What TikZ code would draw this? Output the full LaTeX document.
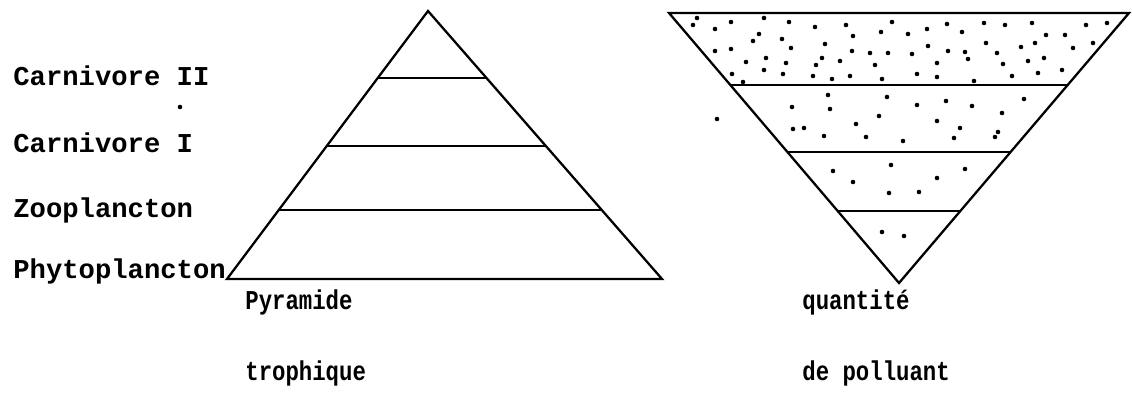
\documentclass[tikz,border=0pt]{standalone}
\usepackage{fontspec}
\setmonofont{Liberation Mono}
\newfontfamily\narrowmono[FakeStretch=0.82]{Liberation Mono}
\usetikzlibrary{positioning, calc}
\tikzset{
  outline/.style={line width=1.3pt, line join=miter},
  tier/.style={line width=1.3pt},
  tiername/.style={
    anchor=base west, inner sep=0pt,
    font=\ttfamily\bfseries\fontsize{15.5}{18}\selectfont
  },
  caption/.style={
    anchor=base west, inner sep=0pt,
    font=\narrowmono\bfseries\fontsize{15.5}{18}\selectfont
  },
  speck/.style={circle, fill=black, inner sep=0pt, minimum size=2.6pt}
}

\begin{document}
\begin{tikzpicture}[x=0.02cm, y=-0.02cm]

\useasboundingbox (0,0) rectangle (1132,415);

% Trophic pyramid
\coordinate (papex) at (428,11);
\coordinate (pleft) at (227,279);
\coordinate (pright) at (662,279);
\draw[outline] (papex) -- (pleft) -- (pright) -- cycle;
\foreach \t/\n in {0.25/a, 0.504/b, 0.743/c}{
  \coordinate (pl\n) at ($(papex)!\t!(pleft)$);
  \coordinate (pr\n) at ($(papex)!\t!(pright)$);
  \draw[tier] (pl\n) -- (pr\n);
}

% Level names
\node[tiername] (carn2) at (13,86) {Carnivore II};
\node[tiername] (carn1) at (13,153) {Carnivore I};
\node[tiername] (zoo) at (13,217) {Zooplancton};
\node[tiername] (phyto) at (13,278) {Phytoplancton};

% Pollutant (inverted pyramid)
\coordinate (qleft) at (669,13);
\coordinate (qright) at (1129,13);
\coordinate (qapex) at (899,283);
\draw[outline] (qleft) -- (qright) -- (qapex) -- cycle;
\foreach \t/\n in {0.267/a, 0.515/b, 0.733/c}{
  \coordinate (ql\n) at ($(qleft)!\t!(qapex)$);
  \coordinate (qr\n) at ($(qright)!\t!(qapex)$);
  \draw[tier] (ql\n) -- (qr\n);
}

% Pollutant dots
\foreach \dx/\dy [count=\i] in {
  693/25, 697/18, 715/29, 731/22, 764/18, 789/22, 815/27, 846/25,
  892/22, 927/29, 947/24, 962/32, 984/23, 1005/25, 1032/23, 1086/25,
  1107/23, 759/34, 753/41, 782/39, 825/44, 853/36, 881/32, 908/34,
  1046/35, 1065/35, 1093/43, 715/51, 731/49, 791/48, 852/51, 870/53,
  888/53, 912/54, 928/46, 948/51, 965/52, 968/59, 986/43, 997/53,
  1021/47, 1035/43, 1073/48, 746/62, 766/58, 786/63, 816/65, 822/58,
  840/61, 875/65, 937/63, 1003/64, 1028/61, 1044/58, 732/74, 743/82,
  764/70, 783/74, 813/76, 832/79, 850/76, 882/79, 917/74, 937/77,
  974/81, 1012/76, 1038/73, 1062/70,
  828/95, 887/97, 1024/99, 946/101, 792/107, 830/109, 917/105, 972/106,
  879/116, 1002/113, 856/124, 937/121, 793/129, 804/128, 960/128,
  998/132, 995/137, 824/136, 866/137, 903/141, 954/138,
  833/171, 891/165, 965/169, 853/182, 937/178, 889/193, 919/192,
  882/232, 904/236,
  717/119, 180/107}
  \node[speck] (dot\i) at (\dx,\dy) {};

% Captions
\node[caption] (pyr) at (245,309) {Pyramide};
\node[caption] (troph) at (245,380) {trophique};
\node[caption] (quant) at (802,309) {quantité};
\node[caption] (poll) at (802,380) {de polluant};

\end{tikzpicture}
\end{document}
